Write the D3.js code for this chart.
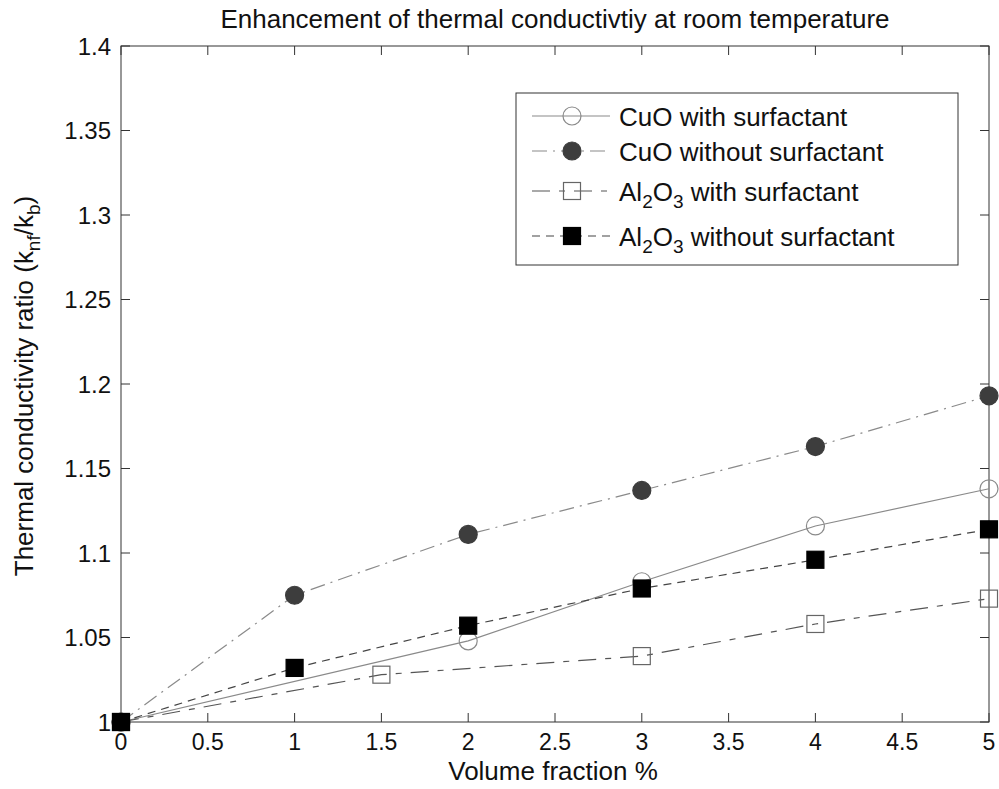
<!DOCTYPE html>
<html><head><meta charset="utf-8">
<script src="https://cdn.jsdelivr.net/npm/d3@7"></script>
<style>body{margin:0;background:#fff}text{font-family:"Liberation Sans",Arial,sans-serif;fill:#111}</style>
</head><body><svg id="c" width="999" height="789"></svg>
<script>
const xTicks = [0,0.5,1,1.5,2,2.5,3,3.5,4,4.5,5];
const yTicks = [1,1.05,1.1,1.15,1.2,1.25,1.3,1.35,1.4];
const cuoWithX = [0,2,3,4,5];
const cuoWithY = [1,1.048,1.083,1.116,1.138];
const cuoWithoutX = [0,1,2,3,4,5];
const cuoWithoutY = [1,1.075,1.111,1.137,1.163,1.193];
const alWithX = [0,1.5,3,4,5];
const alWithY = [1,1.028,1.039,1.058,1.073];
const alWithoutX = [0,1,2,3,4,5];
const alWithoutY = [1,1.032,1.057,1.079,1.096,1.114];
const titleText = "Enhancement of thermal conductivtiy at room temperature";
const xLabel = "Volume fraction %";

const svg = d3.select("#c");
const L=121,R=989,T=46,B=722;
const x = d3.scaleLinear().domain([0,5]).range([L,R]);
const y = d3.scaleLinear().domain([1,1.4]).range([B,T]);

const series = [
  {name:[["CuO with surfactant",""]], xs:cuoWithX, ys:cuoWithY, stroke:"#8a8a8a", dash:null, marker:"circle", fill:"none", mstroke:"#8a8a8a"},
  {name:[["CuO without surfactant",""]], xs:cuoWithoutX, ys:cuoWithoutY, stroke:"#8a8a8a", dash:"15,6,2,6", marker:"circle", fill:"#3d3d3d", mstroke:"#3d3d3d"},
  {name:[["Al",""],["2","sub"],["O",""],["3","sub"],[" with surfactant",""]], xs:alWithX, ys:alWithY, stroke:"#555", dash:"18,9,6,9", marker:"square", fill:"none", mstroke:"#666"},
  {name:[["Al",""],["2","sub"],["O",""],["3","sub"],[" without surfactant",""]], xs:alWithoutX, ys:alWithoutY, stroke:"#444", dash:"8,6", marker:"square", fill:"#000", mstroke:"#000"}
];

// box
svg.append("rect").attr("x",L).attr("y",T).attr("width",R-L).attr("height",B-T)
  .attr("fill","none").attr("stroke","#333").attr("stroke-width",1);

// ticks (inside, all four sides)
const tl = 9;
const g = svg.append("g").attr("stroke","#333").attr("stroke-width",1);
xTicks.forEach(t=>{
  g.append("line").attr("x1",x(t)).attr("x2",x(t)).attr("y1",B).attr("y2",B-tl);
  g.append("line").attr("x1",x(t)).attr("x2",x(t)).attr("y1",T).attr("y2",T+tl);
});
yTicks.forEach(t=>{
  g.append("line").attr("x1",L).attr("x2",L+tl).attr("y1",y(t)).attr("y2",y(t));
  g.append("line").attr("x1",R).attr("x2",R-tl).attr("y1",y(t)).attr("y2",y(t));
});
const fmt = d=>String(+d.toFixed(2));
svg.append("g").selectAll("text").data(xTicks).join("text")
  .attr("x",d=>x(d)).attr("y",750).attr("text-anchor","middle").attr("font-size",23).text(fmt);
svg.append("g").selectAll("text").data(yTicks).join("text")
  .attr("x",111).attr("y",d=>y(d)+8.5).attr("text-anchor","end").attr("font-size",24).text(fmt);

// title & labels
svg.append("text").attr("x",(L+R)/2).attr("y",28).attr("text-anchor","middle").attr("font-size",26).text(titleText);
svg.append("text").attr("x",553).attr("y",780).attr("text-anchor","middle").attr("font-size",26).text(xLabel);
const yl = svg.append("text").attr("transform","translate(33,386) rotate(-90)").attr("text-anchor","middle").attr("font-size",26);
yl.append("tspan").text("Thermal conductivity ratio (k");
yl.append("tspan").attr("font-size",19).attr("dy",7).text("nf");
yl.append("tspan").attr("dy",-7).text("/k");
yl.append("tspan").attr("font-size",19).attr("dy",7).text("b");
yl.append("tspan").attr("dy",-7).text(")");

// lines
const line = d3.line().x(d=>x(d[0])).y(d=>y(d[1]));
series.forEach(s=>{
  const pts = s.xs.map((v,i)=>[v,s.ys[i]]);
  svg.append("path").datum(pts).attr("d",line).attr("fill","none")
    .attr("stroke",s.stroke).attr("stroke-width",1.2).attr("stroke-dasharray",s.dash);
});
function drawMarker(sel,s,cx,cy){
  if(s.marker==="circle"){
    sel.append("circle").attr("cx",cx).attr("cy",cy).attr("r",9)
      .attr("fill",s.fill).attr("stroke",s.mstroke).attr("stroke-width",1.2);
  } else {
    sel.append("rect").attr("x",cx-8.5).attr("y",cy-8.5).attr("width",17).attr("height",17)
      .attr("fill",s.fill).attr("stroke",s.mstroke).attr("stroke-width",1.2);
  }
}
series.forEach(s=>{
  const mg = svg.append("g");
  s.xs.forEach((v,i)=>drawMarker(mg,s,x(v),y(s.ys[i])));
});

// legend
const lg = svg.append("g");
lg.append("rect").attr("x",516).attr("y",93).attr("width",442).attr("height",172)
  .attr("fill","#fff").attr("stroke","#333").attr("stroke-width",1);
const rowY = [116,151,191,236];
series.forEach((s,i)=>{
  const cy = rowY[i];
  lg.append("line").attr("x1",532).attr("x2",610).attr("y1",cy).attr("y2",cy)
    .attr("stroke",s.stroke).attr("stroke-width",1.2).attr("stroke-dasharray",s.dash);
  drawMarker(lg,s,572,cy);
  const t = lg.append("text").attr("x",619).attr("y",cy+9.5).attr("font-size",26);
  let shifted=false;
  s.name.forEach(([str,kind])=>{
    const sp = t.append("tspan").text(str);
    if(kind==="sub"){ sp.attr("font-size",19).attr("dy",shifted?0:7); shifted=true; }
    else if(shifted){ sp.attr("dy",-7); shifted=false; }
  });
});
</script></body></html>
